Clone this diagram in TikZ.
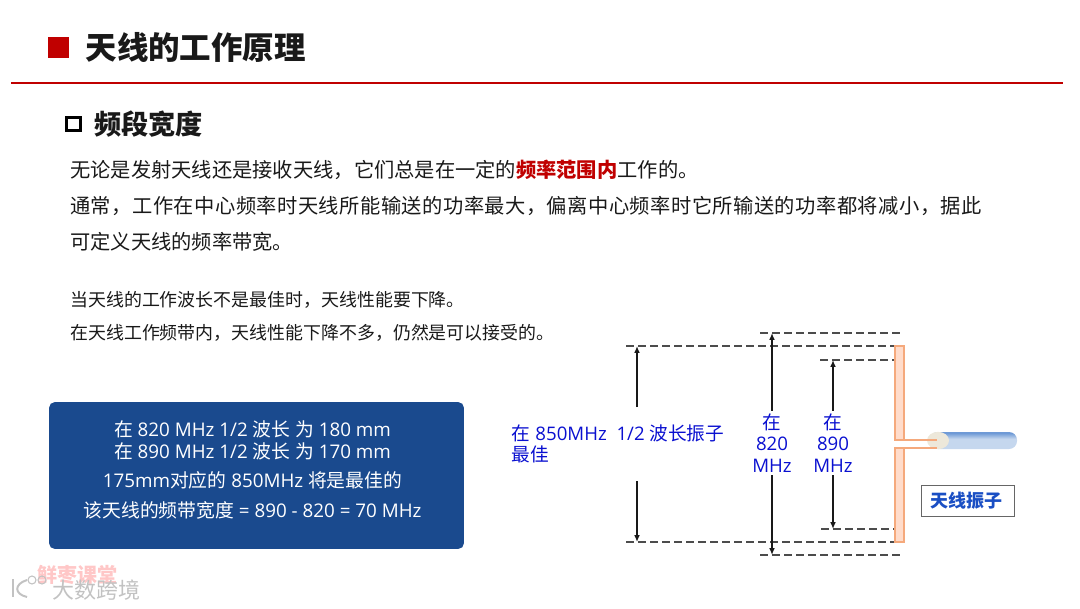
\documentclass[tikz,border=0pt]{standalone}
\usepackage{fontspec}
\setmainfont{Noto Sans CJK SC}
\newfontfamily\latinfont{Open Sans}
\newcommand{\lat}[1]{{\latinfont #1}}
\usetikzlibrary{positioning, arrows.meta, shapes.geometric}
\definecolor{headred}{HTML}{C00000}
\definecolor{panelblue}{HTML}{1A4A8E}
\definecolor{labelblue}{HTML}{0A10D0}
\definecolor{partblue}{HTML}{1A4FC4}
\definecolor{armfill}{HTML}{FFDCCB}
\definecolor{armedge}{HTML}{F5A97C}
\definecolor{cablelight}{HTML}{C5D7EE}
\definecolor{cabledark}{HTML}{6F9AD6}
\definecolor{cableend}{HTML}{EDE8DA}
\pgfdeclareverticalshading{cablefade}{100bp}{color(0bp)=(cablelight); color(55bp)=(cablelight); color(72bp)=(cabledark); color(100bp)=(cabledark)}

\begin{document}
\begin{tikzpicture}[
                x=0.75pt, y=-0.75pt,
                >={Latex[width=1.5mm,length=1.8mm]},
                align=center,
                heading/.style={anchor=west, inner sep=0pt, font=\fontsize{23.6}{28}\selectfont\bfseries, text=black!90},
                subheading/.style={anchor=west, inner sep=0pt, font=\fontsize{20.4}{24}\selectfont\bfseries, text=black!90},
                bodytext/.style={anchor=west, inner sep=0pt, font=\fontsize{15.2}{18}\selectfont, text=black!90},
                smalltext/.style={anchor=west, inner sep=0pt, font=\fontsize{13.45}{16}\selectfont, text=black!90},
                panel/.style={rectangle, fill=panelblue, rounded corners=4pt, minimum width=311pt, minimum height=110pt},
                paneltext/.style={text=white, inner sep=0pt, font=\fontsize{14.1}{16.5}\selectfont},
                freqlabel/.style={text=labelblue, inner sep=2pt, font=\fontsize{14}{16}\selectfont},
                partlabel/.style={rectangle, draw=black!60, fill=white, minimum width=70pt, minimum height=23pt, inner sep=0pt, text=partblue, font=\fontsize{13.5}{16}\selectfont\bfseries},
                level/.style={draw=black!70, line width=0.8pt, dash pattern=on 6pt off 3pt},
                line/.style={draw=black!90, line width=1.1pt, ->},
                arm/.style={draw=armedge, fill=armfill, line width=0.8pt},
                feed/.style={draw=armedge, line width=1.5pt},
                ]

                % Header and text on the left
                \node [rectangle, fill=headred, minimum width=15.75pt, minimum height=15.75pt, inner sep=0pt] (headmark) at (58.5,47.5) {};
                \node [heading, right=12pt of headmark] (title) {天线的工作原理};
                \draw [headred, line width=1.1pt] (11,83) -- (1063,83);
                \node [rectangle, draw=black, line width=2pt, minimum width=10.7pt, minimum height=9.3pt, inner sep=0pt] (submark) at (73.5,124) {};
                \node [subheading, right=9pt of submark] (subtitle) {频段宽度};
                \node [bodytext] (lineA) at (70,170) {无论是发射天线还是接收天线，它们总是在一定的{\bfseries\color{headred}频率范围内}工作的。};
                \node [bodytext, below=27pt of lineA.west, anchor=west] (lineB) {\addfontfeatures{LetterSpace=2.27}通常，工作在中心频率时天线所能输送的功率最大，偏离中心频率时它所输送的功率都将减小，据此};
                \node [bodytext, below=27pt of lineB.west, anchor=west] (lineC) {可定义天线的频率带宽。};
                \node [smalltext] (lineD) at (70,300) {当天线的工作波长不是最佳时，天线性能要下降。};
                \node [smalltext, below=25pt of lineD.west, anchor=west] (lineE) {在天线工作频带内，天线性能下降不多，仍然是可以接受的。};

                % Blue panel
                \node [panel] (summary) at (256.5,475.5) {};
                \node [paneltext] (summaryText) at (252.5,470) {在\lat{ 820 MHz 1/2 }波长\lat{ }为\lat{ 180 mm}\\ 在\lat{ 890 MHz 1/2 }波长\lat{ }为\lat{ 170 mm}\\[5.2pt] \lat{175mm}对应的\lat{ 850MHz }将是最佳的\\[6pt] 该天线的频带宽度\lat{ = 890 - 820 = 70 MHz}};

                % Dimension labels
                \node [freqlabel, anchor=west, align=left] (halfLabel) at (509,444) {在\lat{ 850MHz~~1/2 }波长振子\\ 最佳};
                \node [freqlabel] (lowLabel) at (772,443) {在\\ \lat{820}\\ \lat{MHz}};
                \node [freqlabel] (highLabel) at (833,443) {在\\ \lat{890}\\ \lat{MHz}};

                % Ends of the dimension lines
                \coordinate (halfTopL) at (626,346);
                \coordinate (halfTopR) at (897,346);
                \coordinate (halfBotL) at (626,542);
                \coordinate (halfBotR) at (897,542);
                \coordinate (lowTopL) at (760,333);
                \coordinate (lowTopR) at (901,333);
                \coordinate (lowBotL) at (760,555);
                \coordinate (lowBotR) at (901,555);
                \coordinate (highTopL) at (820,360);
                \coordinate (highTopR) at (895,360);
                \coordinate (highBotL) at (821,529);
                \coordinate (highBotR) at (895,529);
                \coordinate (halfUp) at (637,407);
                \coordinate (halfDown) at (637,481);
                \coordinate (halfUpEnd) at (637,346);
                \coordinate (halfDownEnd) at (637,542);
                \coordinate (lowUpEnd) at (772,333);
                \coordinate (lowDownEnd) at (772,555);
                \coordinate (highUpEnd) at (833,360);
                \coordinate (highDownEnd) at (833,529);

                \draw [level] (halfTopL) -- (halfTopR);
                \draw [level] (halfBotL) -- (halfBotR);
                \draw [level] (lowTopL) -- (lowTopR);
                \draw [level] (lowBotL) -- (lowBotR);
                \draw [level] (highTopL) -- (highTopR);
                \draw [level] (highBotL) -- (highBotR);

                \draw [line] (halfUp) -- (halfUpEnd);
                \draw [line] (halfDown) -- (halfDownEnd);
                \draw [line] (lowLabel) -- (lowUpEnd);
                \draw [line] (lowLabel) -- (lowDownEnd);
                \draw [line] (highLabel) -- (highUpEnd);
                \draw [line] (highLabel) -- (highDownEnd);

                % Dipole and cable
                \draw [arm] (895,346) rectangle (904,440);
                \draw [arm] (895,448) rectangle (904,542);
                \shade [shading=cablefade, rounded corners=6pt] (930,432) rectangle (1017,449);
                \node [ellipse, fill=cableend, minimum width=16.5pt, minimum height=13pt, inner sep=0pt] (cableEnd) at (938,440.5) {};
                \draw [feed] (895,440) -- (937,440);
                \draw [feed] (895,447.5) -- (937,447.5);

                \node [partlabel] (dipoleLabel) at (968,500.5) {天线振子\hspace*{3pt}};

                % Watermark
                \node [inner sep=0pt, text=red!22, font=\fontsize{15}{18}\selectfont\bfseries] (markA) at (77,575) {鲜枣课堂};
                \node [inner sep=0pt, text=black!24, font=\fontsize{16.5}{18}\selectfont] (markB) at (96,590) {大数跨境};
                \draw [black!24, line width=1.5pt] (13,579) -- (13,597);
                \draw [black!24, line width=1.5pt] (27,580) .. controls (14,584) and (14,594) .. (27,597);
                \node [circle, draw=black!24, line width=0.8pt, minimum size=6pt, inner sep=0pt] (markC) at (32,580) {};
                \node [circle, draw=black!24, line width=0.8pt, minimum size=6pt, inner sep=0pt] (markD) at (42,580) {};

                \useasboundingbox (0,0) rectangle (1080,608);
\end{tikzpicture}
\end{document}
